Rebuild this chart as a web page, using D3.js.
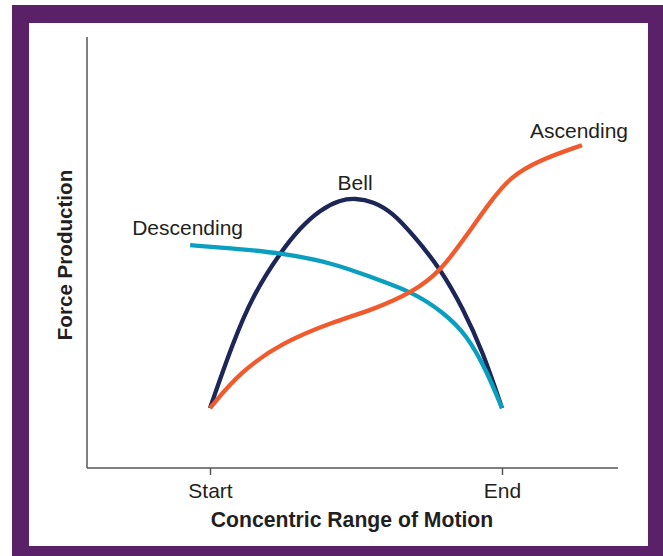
<!DOCTYPE html>
<html>
<head>
<meta charset="utf-8">
<script src="https://cdn.jsdelivr.net/npm/d3@7"></script>
<style>
  html, body { margin: 0; padding: 0; background: #ffffff; }
  svg { display: block; }
  text { font-family: "Liberation Sans", Arial, Helvetica, sans-serif; fill: #231f20; }
</style>
</head>
<body>
<svg id="chart" width="663" height="556"></svg>
<script>
// ---- data (x: 0 = Start, 1 = End; y: relative force production 0..100) ----
const tickValues = [0, 1];
const tickLabels = ["Start", "End"];
const xTitle = "Concentric Range of Motion";
const yTitle = "Force Production";

const bellX = [0, 0.079, 0.147, 0.240, 0.308, 0.377, 0.445, 0.497, 0.558, 0.627, 0.695, 0.788, 0.866, 0.935, 1];
const bellY = [13.9, 29.2, 40.1, 49.9, 55.7, 59.9, 62.2, 62.6, 61.9, 59.2, 54.1, 46.4, 37.1, 26.9, 13.9];

const descX = [-0.068, 0.103, 0.240, 0.421, 0.558, 0.695, 0.798, 0.880, 0.949, 1];
const descY = [51.7, 50.8, 49.9, 47.6, 44.1, 40.8, 36.2, 30.9, 22.3, 13.9];

const ascX = [0, 0.103, 0.250, 0.421, 0.558, 0.695, 0.788, 0.880, 0.959, 1.027, 1.130, 1.274];
const ascY = [13.9, 22.3, 29.2, 33.9, 36.7, 40.8, 45.5, 54.1, 61.7, 67.5, 71.5, 74.9];

const seriesNames = ["Bell", "Descending", "Ascending"];
const seriesColors = ["#1c2657", "#0a9fbf", "#f05a2c"];

// ---- layout ----
const svg = d3.select("#chart");
svg.append("rect").attr("x", 12).attr("y", 5).attr("width", 651).attr("height", 551).attr("fill", "#5a2068");
svg.append("rect").attr("x", 29).attr("y", 23).attr("width", 619).attr("height", 523).attr("fill", "#ffffff");

const x = d3.scaleLinear().domain([-0.4212, 1.3973]).range([87, 618]);
const y = d3.scaleLinear().domain([0, 100]).range([468, 37]);

// axes
const xAxis = svg.append("g").attr("transform", `translate(0,${y(0)})`)
  .call(d3.axisBottom(x).tickValues(tickValues).tickFormat((d, i) => tickLabels[i])
        .tickSize(7).tickSizeOuter(0).tickPadding(8));
xAxis.selectAll("path, line").attr("stroke", "#555").attr("stroke-width", 1.5);
xAxis.selectAll("text").style("font-size", "21px").attr("fill", "#231f20");
xAxis.select("path").attr("d", `M${x.range()[0]},0H${x.range()[1]}`);

const yAxis = svg.append("g").attr("transform", `translate(${x.range()[0]},0)`)
  .call(d3.axisLeft(y).tickValues([]).tickSizeOuter(0));
yAxis.select("path").attr("stroke", "#555").attr("stroke-width", 1.5)
  .attr("d", `M0,${y.range()[0]}V${y.range()[1]}`);

// titles
svg.append("text").attr("x", 352).attr("y", 527).attr("text-anchor", "middle")
  .style("font-size", "21.2px").style("font-weight", "bold").text(xTitle);
svg.append("text").attr("transform", "translate(72,255) rotate(-90)").attr("text-anchor", "middle")
  .style("font-size", "20.6px").style("font-weight", "bold").text(yTitle);

// curves
const line = d3.line().x(d => x(d[0])).y(d => y(d[1])).curve(d3.curveBasis);
const seriesData = [
  d3.zip(bellX, bellY),
  d3.zip(descX, descY),
  d3.zip(ascX, ascY)
];
seriesData.forEach((pts, i) => {
  svg.append("path").datum(pts).attr("d", line)
    .attr("fill", "none").attr("stroke", seriesColors[i]).attr("stroke-width", 4.3)
    .attr("stroke-linecap", "butt");
});

// labels
const labelPos = [
  {x: 0.497, y: 62.6, dx: 0, dy: -8, anchor: "middle"},   // Bell above peak
  {x: -0.068, y: 51.7, dx: -58, dy: -10, anchor: "start"}, // Descending
  {x: 1.274, y: 74.9, dx: -52, dy: -7, anchor: "start"}   // Ascending
];
seriesNames.forEach((name, i) => {
  const p = labelPos[i];
  svg.append("text").attr("x", x(p.x) + p.dx).attr("y", y(p.y) + p.dy)
    .attr("text-anchor", p.anchor).style("font-size", "21px").text(name);
});
</script>
</body>
</html>
